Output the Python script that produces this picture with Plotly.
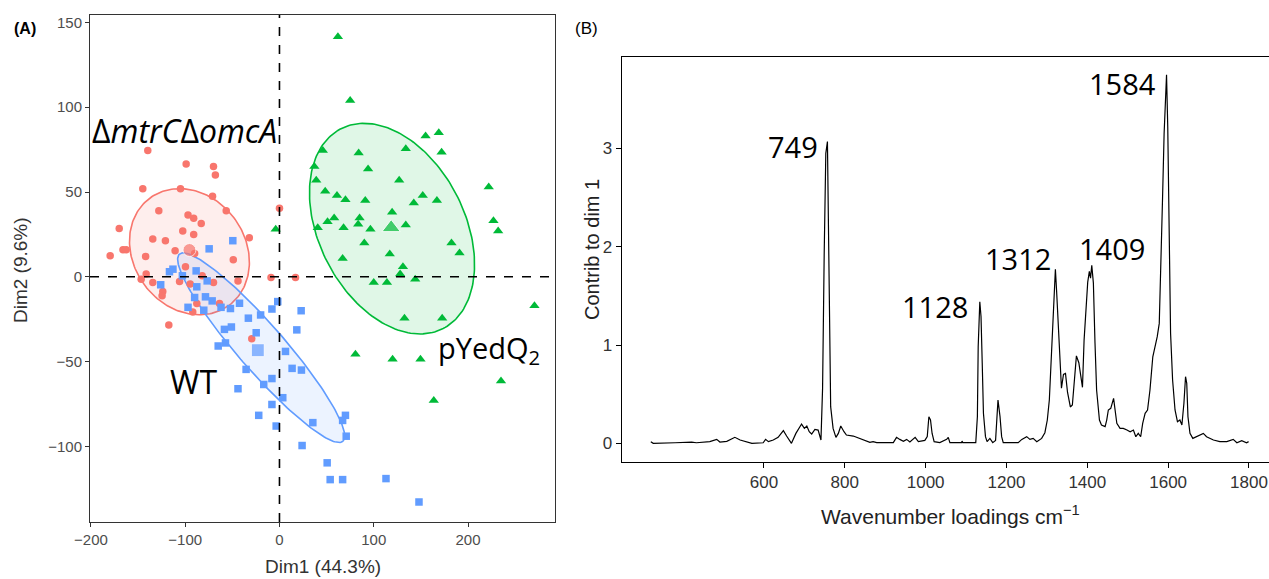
import numpy as np
import plotly.graph_objects as go

# ---------------- Panel A data (PCA individuals) ----------------
mut_x = [-139.7, -99, -70, -68, -145, -105, -71, -128, -56.5, 0, -97, -91, -83, -170, -102.6, -91,
         -134.4, -121, -32, -166, -162.6, -110.7, -90, -179.6, -142, -49, -99.7, -141.4, -9, 17,
         -146.7, -134.4, -123.8, -124.5, -106, -94.7, -82, -70, -44, -87.7, -92, -63.6, -117.4, -29.4]
mut_y = [74.5, 66.6, 65, 60, 52, 52, 47.5, 39, 39, 40.4, 36.5, 34.5, 31.5, 28.5, 27, 25,
         22.3, 21.3, 23, 16, 16, 15.4, 13.8, 12.4, 12, 10, 6, 1.6, -0.4, -0.4,
         -1.4, -3.4, -8.7, -11.2, -2.8, -4.3, 0.6, -3.4, -2.4, -15.8, -20.7, -15.8, -28.4, -36.5]

wt_x = [-49.5, -74.6, -88.4, -116.7, -113, -103, -126, -87.7, -76.7, -90, -78.5, -71.4, -97, -80.3,
        -62, -52, -42.4, -8, -1.8, 23, -20, -33, -58.4, -51, 18.4, -24.7, -65, -57.3, 6.4, -35.4,
        13.4, 23.3, -8, -16.7, -44, 3.5, -8, -22, -3.5, 35.4, 70, 67, 70.8, 24, 50.6, 53.8, 67, 113, 148]
wt_y = [21.3, 16.5, 3.5, 3, 4.5, 0.6, -4.7, -5.9, -2.4, -12.2, -11.8, -14.2, -18, -19.7,
        -18, -18.7, -15.6, -19, -14.6, -20, -22.5, -24.4, -31, -29.6, -31.3, -33, -40.8, -39, -44, -54.6,
        -54, -55, -60, -63.5, -66, -71.3, -75.3, -81.7, -88, -86, -81.7, -84.7, -94, -99.5, -109.7,
        -119.6, -119.6, -119, -132.8]

yed_x = [62, 75, 155, 169, 172, 134, 84, 46, 94, 37, 39, 48.5, 61, 70, 91, 127, 152, 142.5, 167,
         222, 227, 232, 119.5, 58, 51, 40.6, 68, 85, 83.5, 96.5, 134, 90, 182.5, 191, 117, 67, 131,
         128, -4, 144, 100, 114, 132.6, 172.6, 270.5, 80.6, 120, 149.6, 235, 163.7]
yed_y = [141.5, 104, 83, 85, 73.5, 75.5, 73, 74.5, 63.6, 65, 57, 50.4, 48, 45.5, 45, 57, 48, 43.5, 45,
         53, 33, 27, 38, 34.7, 32.5, 29, 29, 34.7, 31, 28, 30.5, 20, 20, 14, 13.4, 10.8, 6,
         1.6, 28, -1.4, -3.4, -3.4, -24.4, -24.4, -17, -45.7, -48.6, -48.6, -61.5, -73]

# group centroids
cent_x = [-95.5, -23, 118.5]
cent_y = [15.8, -43.3, 29]

# ellipses: center and the two half-axis vectors (data units)
ell_cx = [-95.5, -19.4, 119.4]
ell_cy = [14.8, -41.8, 28.4]
ell_ux = [42.3, 86.7, 54.3]
ell_uy = [-31.5, -55.2, -58.9]
ell_vx = [-47.5, 18.4, -68.7]
ell_vy = [-19.8, 9.0, -19.7]

# ---------------- Panel B data (loadings spectrum) ----------------
wavenumber = [320, 326, 380, 421, 433, 466, 483, 491, 508, 528, 541, 553, 570, 598, 604, 611, 623, 635,
              648, 656, 668, 679, 693, 700, 706, 712, 718, 726, 734, 741, 745, 749, 753, 757, 759, 762,
              765, 771, 778, 784, 790, 798, 804, 821, 829, 837, 850, 862, 870, 879, 920, 928, 936, 945,
              953, 961, 974, 982, 998, 1004, 1008, 1012, 1016, 1021, 1035, 1052, 1056, 1060, 1089, 1090,
              1092, 1124, 1128, 1130, 1134, 1137, 1140, 1143, 1148, 1152, 1159, 1166, 1173, 1176, 1179,
              1184, 1188, 1192, 1229, 1238, 1250, 1258, 1266, 1275, 1287, 1295, 1301, 1306, 1310, 1314,
              1318, 1321, 1324, 1330, 1333, 1336, 1341, 1346, 1351, 1358, 1363, 1368, 1373, 1379, 1384,
              1388, 1392, 1397, 1401, 1405, 1408, 1411, 1415, 1419, 1423, 1430, 1435, 1444, 1448, 1452,
              1458, 1465, 1469, 1473, 1481, 1489, 1498, 1506, 1514, 1520, 1526, 1532, 1537, 1543, 1549,
              1555, 1562, 1568, 1573, 1578, 1582, 1586, 1590, 1594, 1596, 1599, 1602, 1606, 1611, 1617,
              1623, 1629, 1634, 1639, 1643, 1646, 1649, 1654, 1661, 1671, 1679, 1687, 1695, 1704, 1712,
              1728, 1745, 1761, 1770, 1782, 1794, 1799]
contrib = [0.017, 0.0, 0.006, 0.013, 0.006, 0.017, 0.04, 0.013, 0.02, 0.061, 0.034, 0.017, 0.0, 0.006,
           0.04, 0.017, 0.034, 0.061, 0.129, 0.074, 0.0, 0.101, 0.196, 0.152, 0.176, 0.118, 0.095, 0.142,
           0.135, 0.034, 0.559, 1.93, 2.95, 3.07, 2.19, 0.90, 0.373, 0.152, 0.061, 0.101, 0.176, 0.118,
           0.084, 0.074, 0.061, 0.05, 0.023, 0.01, 0.017, 0.007, 0.007, 0.061, 0.04, 0.02, 0.04, 0.014,
           0.061, 0.017, 0.03, 0.068, 0.271, 0.237, 0.10, 0.017, 0.007, 0.04, 0.061, 0.007, 0.007, 0.023,
           0.007, 0.007, 0.271, 0.983, 1.44, 1.29, 0.814, 0.305, 0.068, 0.017, 0.05, 0.007, 0.03, 0.305,
           0.44, 0.271, 0.068, 0.007, 0.007, 0.04, 0.068, 0.04, 0.05, 0.017, 0.05, 0.108, 0.237, 0.44,
           0.814, 1.19, 1.66, 1.77, 1.55, 1.05, 0.70, 0.56, 0.70, 0.71, 0.52, 0.37, 0.39, 0.65, 0.89,
           0.82, 0.66, 0.57, 1.05, 1.37, 1.64, 1.75, 1.68, 1.81, 1.63, 1.02, 0.54, 0.237, 0.186, 0.17,
           0.237, 0.339, 0.356, 0.458, 0.339, 0.203, 0.152, 0.152, 0.135, 0.118, 0.135, 0.067, 0.101,
           0.067, 0.203, 0.305, 0.339, 0.542, 0.88, 0.983, 1.085, 1.22, 1.73, 2.475, 3.15, 3.63, 3.75,
           3.22, 2.10, 1.12, 0.644, 0.339, 0.22, 0.237, 0.186, 0.407, 0.678, 0.61, 0.27, 0.101, 0.05,
           0.067, 0.084, 0.101, 0.067, 0.05, 0.034, 0.017, 0.017, 0.04, 0.006, 0.027, 0.006, 0.017]

peak_labels = ["749", "1128", "1312", "1409", "1584"]
peak_lab_x = [673, 1024, 1229, 1461, 1486]
peak_lab_y = [3.02, 1.39, 1.88, 1.98, 3.66]

a_xticks = [-200, -100, 0, 100, 200]
a_yticks = [-100, -50, 0, 50, 100, 150]
b_xticks = [600, 800, 1000, 1200, 1400, 1600, 1800]
b_yticks = [0, 1, 2, 3]

RED, BLUE, GREEN = "#F8766D", "#619CFF", "#00BA38"
FILLS = ["rgba(248,118,109,0.12)", "rgba(97,156,255,0.12)", "rgba(0,186,56,0.12)"]
COLS = [RED, BLUE, GREEN]

fig = go.Figure()

t = np.linspace(0, 2 * np.pi, 200)
for i in range(3):
    ex = ell_cx[i] + np.cos(t) * ell_ux[i] + np.sin(t) * ell_vx[i]
    ey = ell_cy[i] + np.cos(t) * ell_uy[i] + np.sin(t) * ell_vy[i]
    fig.add_trace(go.Scatter(x=ex, y=ey, mode="lines", fill="toself", fillcolor=FILLS[i],
                             line=dict(color=COLS[i], width=1.6), hoverinfo="skip",
                             showlegend=False, xaxis="x", yaxis="y"))

fig.add_trace(go.Scatter(x=mut_x, y=mut_y, mode="markers", showlegend=False,
                         marker=dict(symbol="circle", size=7.5, color=RED), xaxis="x", yaxis="y"))
fig.add_trace(go.Scatter(x=wt_x, y=wt_y, mode="markers", showlegend=False,
                         marker=dict(symbol="square", size=7.5, color=BLUE), xaxis="x", yaxis="y"))
fig.add_trace(go.Scatter(x=yed_x, y=yed_y, mode="markers", showlegend=False,
                         marker=dict(symbol="triangle-up", size=9, color=GREEN), xaxis="x", yaxis="y"))
fig.add_trace(go.Scatter(x=cent_x, y=cent_y, mode="markers", showlegend=False,
                         marker=dict(symbol=["circle", "square", "triangle-up"], size=[13, 13, 16],
                                     color=COLS), xaxis="x", yaxis="y"))

fig.add_trace(go.Scatter(x=wavenumber, y=contrib, mode="lines", showlegend=False,
                         line=dict(color="black", width=1.2), xaxis="x2", yaxis="y2"))

tickfontA = dict(family="Liberation Sans, Arial", size=15, color="#4D4D4D")
tickfontB = dict(family="Liberation Sans, Arial", size=17, color="#333333")

fig.update_layout(
    width=1269, height=579, margin=dict(l=0, r=0, t=0, b=0),
    paper_bgcolor="white", plot_bgcolor="white",
    xaxis=dict(domain=[90 / 1269, 555 / 1269], range=[-201, 292.3], anchor="y", automargin=False,
               tickvals=a_xticks, ticks="outside", ticklen=4, tickcolor="#333", tickfont=tickfontA,
               showline=True, linecolor="#333", linewidth=1, mirror=True, showgrid=False,
               zeroline=False),
    yaxis=dict(domain=[1 - 522 / 579, 1 - 15 / 579], range=[-144.6, 154.4], anchor="x", automargin=False,
               tickvals=a_yticks, ticks="outside", ticklen=4, tickcolor="#333", tickfont=tickfontA,
               showline=True, linecolor="#333", linewidth=1, mirror=True, showgrid=False,
               zeroline=False),
    xaxis2=dict(domain=[621.7 / 1269, 1.0], range=[248, 1849.5], anchor="y2", automargin=False,
                tickvals=b_xticks, ticks="outside", ticklen=5, tickcolor="black", tickfont=tickfontB,
                showline=True, linecolor="black", linewidth=1.3, mirror=True, showgrid=False,
                zeroline=False),
    yaxis2=dict(domain=[1 - 461.7 / 579, 1 - 57.3 / 579], range=[-0.187, 3.927], anchor="x2",
                automargin=False,
                tickvals=b_yticks, ticks="outside", ticklen=5, tickcolor="black", tickfont=tickfontB,
                showline=True, linecolor="black", linewidth=1.3, showgrid=False, zeroline=False),
    shapes=[
        dict(type="line", xref="x", yref="y domain", x0=0, x1=0, y0=0, y1=1,
             line=dict(color="black", width=1.6, dash="dash")),
        dict(type="line", xref="x domain", yref="y", x0=0, x1=1, y0=0, y1=0,
             line=dict(color="black", width=1.6, dash="dash")),
    ],
)

ann = []
ann.append(dict(x=-101, y=86, xref="x", yref="y", text="Δ<i>mtrC</i>Δ<i>omcA</i>", showarrow=False,
                font=dict(family="Open Sans", size=32, color="black")))
ann.append(dict(x=-91, y=-62, xref="x", yref="y", text="WT", showarrow=False,
                font=dict(family="Open Sans", size=32, color="black")))
ann.append(dict(x=222, y=-43, xref="x", yref="y", text="pYedQ<sub>2</sub>", showarrow=False,
                font=dict(family="Open Sans", size=29, color="black")))
for lab, lx, ly in zip(peak_labels, peak_lab_x, peak_lab_y):
    ann.append(dict(x=lx, y=ly, xref="x2", yref="y2", text=lab, showarrow=False,
                    font=dict(family="Open Sans", size=29, color="black")))

axfont = dict(family="Liberation Sans, Arial", size=19, color="#333333")


def paper_note(px, py, text, font, angle=0):
    return dict(x=px / 1269, y=1 - py / 579, xref="paper", yref="paper", text=text,
                showarrow=False, textangle=angle, font=font, xanchor="center", yanchor="middle")


ann.append(paper_note(323, 566, "Dim1 (44.3%)", axfont))
ann.append(paper_note(20, 270, "Dim2 (9.6%)", axfont, -90))
ann.append(paper_note(950, 515, "Wavenumber loadings cm<sup>−1</sup>",
                      dict(family="Liberation Sans, Arial", size=21, color="#222")))
ann.append(paper_note(592, 250, "Contrib to dim 1",
                      dict(family="Liberation Sans, Arial", size=20, color="#222"), -90))
ann.append(paper_note(25, 28, "<b>(A)</b>",
                      dict(family="Liberation Sans, Arial", size=16, color="black")))
ann.append(paper_note(586, 28, "(B)",
                      dict(family="Liberation Sans, Arial", size=17, color="black")))
fig.update_layout(annotations=ann)

fig.write_html("out.html", config={"displayModeBar": False},
               post_script="document.body.style.margin='0px';document.body.style.padding='0px';")
